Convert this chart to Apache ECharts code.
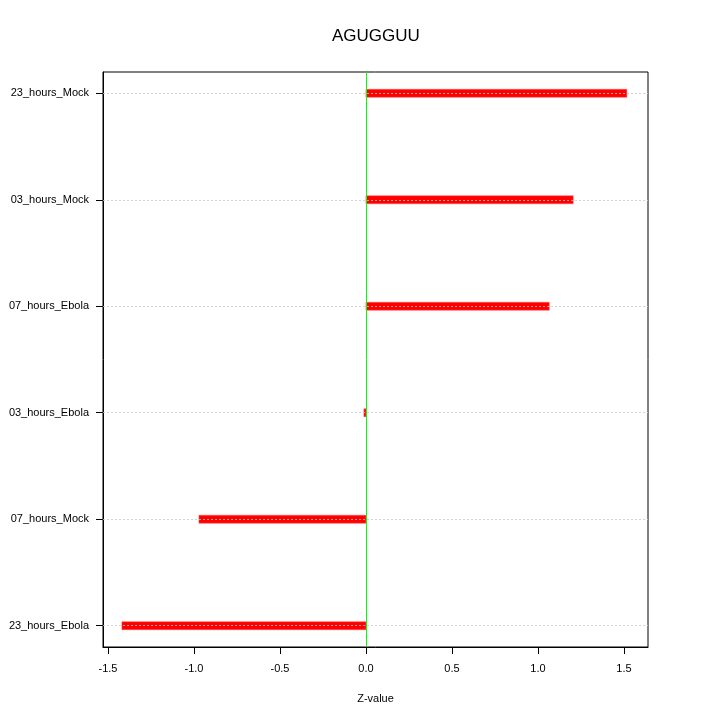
<!DOCTYPE html>
<html>
<head>
<meta charset="utf-8">
<script src="https://cdn.jsdelivr.net/npm/echarts@6/dist/echarts.min.js"></script>
<style>html,body{margin:0;padding:0;background:#fff}#c{width:720px;height:720px}</style>
</head>
<body>
<div id="c"></div>
<script>
// Categories from bottom (y=1) to top (y=6)
var categories = ['23_hours_Ebola', '07_hours_Mock', '03_hours_Ebola', '07_hours_Ebola', '03_hours_Mock', '23_hours_Mock'];
var zValues = [-1.419, -0.971, -0.012, 1.066, 1.205, 1.517];
var xTicks = [-1.5, -1.0, -0.5, 0.0, 0.5, 1.0, 1.5];
var yPositions = [1, 2, 3, 4, 5, 6];

var font = 'Liberation Sans, Arial, Helvetica, sans-serif';
var chart = echarts.init(document.getElementById('c'), null, {renderer: 'canvas'});

var barData = zValues.map(function (v, i) { return [v, yPositions[i]]; });

chart.setOption({
  animation: false,
  backgroundColor: '#ffffff',
  title: {
    text: 'AGUGGUU', left: 327, top: 23,
    textStyle: {fontFamily: font, fontSize: 17, fontWeight: 'normal', color: '#000'}
  },
  grid: {
    left: 103, right: 72, top: 72, bottom: 73,
    show: true, borderColor: '#000', borderWidth: 1, backgroundColor: 'transparent'
  },
  xAxis: {
    type: 'value', min: -1.529, max: 1.640,
    name: 'Z-value', nameLocation: 'middle', nameGap: 46,
    nameTextStyle: {fontFamily: font, fontSize: 11, color: '#000'},
    axisLine: {show: true, onZero: false, lineStyle: {color: '#000'}},
    axisTick: {show: true, inside: false, length: 7, customValues: xTicks, lineStyle: {color: '#000'}},
    axisLabel: {customValues: xTicks, fontFamily: font, fontSize: 11, color: '#000', margin: 16,
      formatter: function (v) { return v.toFixed(1); }},
    splitLine: {show: false}
  },
  yAxis: {
    type: 'value', min: 0.8, max: 6.2,
    axisLine: {show: true, onZero: false, lineStyle: {color: '#000'}},
    axisTick: {show: true, inside: false, length: 7, customValues: yPositions, lineStyle: {color: '#000'}},
    axisLabel: {customValues: yPositions, fontFamily: font, fontSize: 11, color: '#000', margin: 14,
      formatter: function (v) { return categories[Math.round(v) - 1] || ''; }},
    splitLine: {show: false}
  },
  series: [
    {
      type: 'custom',
      z: 2,
      data: barData,
      renderItem: function (params, api) {
        var p0 = api.coord([0, api.value(1)]);
        var p1 = api.coord([api.value(0), api.value(1)]);
        var x = Math.min(p0[0], p1[0]);
        var w = Math.max(Math.abs(p1[0] - p0[0]), 1.5);
        return {
          type: 'rect',
          shape: {x: x, y: p0[1] - 4, width: w, height: 8},
          style: {fill: '#ff0000', stroke: 'rgba(255,80,80,0.5)', lineWidth: 1}
        };
      }
    },
    {
      type: 'line', data: [], z: 3, silent: true,
      markLine: {
        silent: true, symbol: 'none', animation: false,
        label: {show: false},
        lineStyle: {color: 'rgba(200,200,200,0.8)', type: [2, 2], width: 1},
        data: yPositions.map(function (y) { return {yAxis: y}; })
      }
    },
    {
      type: 'line', data: [], z: 4, silent: true,
      markLine: {
        silent: true, symbol: 'none', animation: false,
        label: {show: false},
        lineStyle: {color: '#00ff00', type: 'solid', width: 1},
        data: [{xAxis: 0}]
      }
    }
  ]
});
</script>
</body>
</html>
